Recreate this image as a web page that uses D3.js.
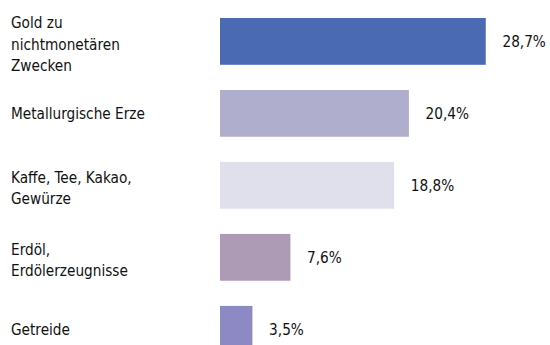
<!DOCTYPE html>
<html>
<head>
<meta charset="utf-8">
<script src="https://cdn.jsdelivr.net/npm/d3@7"></script>
<style>
  html, body { margin: 0; padding: 0; background: #fff; }
  svg text { font-family: "DejaVu Sans Condensed", "DejaVu Sans", sans-serif; fill: #111; }
</style>
</head>
<body>
<svg id="chart" width="550" height="345"></svg>
<script>
// Anteile an den Importen (in %)
const categories = [
  "Gold zu nichtmonetären Zwecken",
  "Metallurgische Erze",
  "Kaffe, Tee, Kakao, Gewürze",
  "Erdöl, Erdölerzeugnisse",
  "Getreide"
];
const labelLines = [
  ["Gold zu", "nichtmonetären", "Zwecken"],
  ["Metallurgische Erze"],
  ["Kaffe, Tee, Kakao,", "Gewürze"],
  ["Erdöl,", "Erdölerzeugnisse"],
  ["Getreide"]
];
const values = [28.7, 20.4, 18.8, 7.6, 3.5];
const colors = ["#4a6ab3", "#afaecd", "#e0e0ec", "#ad9ab4", "#8d89c5"];

const svg = d3.select("#chart");
const fmt = v => d3.format(".1f")(v).replace(".", ",") + "%";

const x = d3.scaleLinear().domain([0, 30]).range([220, 497.8]);
const y = d3.scaleBand().domain(categories).range([18, 352.7]).paddingInner(0.35).paddingOuter(0);

const fontSize = 15.2;
const lineH = 21.7;

const rows = svg.selectAll("g.row")
  .data(categories.map((c, i) => ({ c, v: values[i], lines: labelLines[i], color: colors[i] })))
  .join("g").attr("class", "row");

rows.append("rect")
  .attr("x", x(0))
  .attr("y", d => y(d.c))
  .attr("width", d => x(d.v) - x(0))
  .attr("height", y.bandwidth())
  .attr("fill", d => d.color);

rows.append("text")
  .attr("x", d => x(d.v) + 16.7)
  .attr("y", d => y(d.c) + y.bandwidth() / 2 + 5.4)
  .attr("font-size", fontSize)
  .text(d => fmt(d.v));

rows.each(function(d) {
  const n = d.lines.length;
  const cy = y(d.c) + y.bandwidth() / 2;
  const first = cy + 5.2 - (n - 1) / 2 * lineH + (n > 1 ? 3 : 0);
  const t = d3.select(this).append("text")
    .attr("x", 11)
    .attr("font-size", fontSize);
  d.lines.forEach((line, i) => {
    t.append("tspan").attr("x", 11).attr("y", first + i * lineH).text(line);
  });
});
</script>
</body>
</html>
